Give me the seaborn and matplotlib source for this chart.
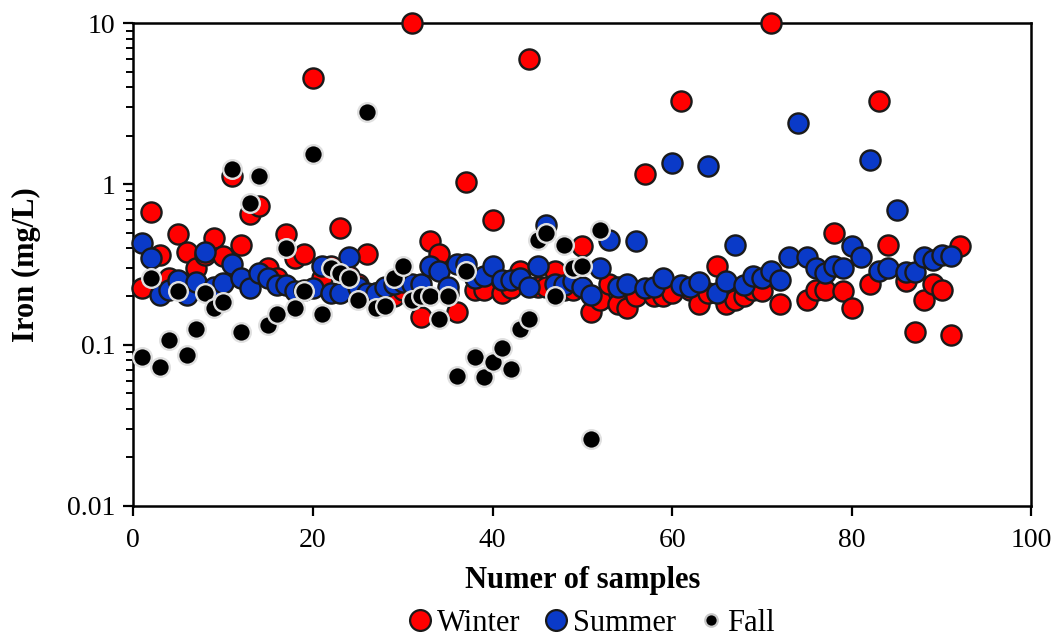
import numpy as np
import pandas as pd
import matplotlib
matplotlib.use("Agg")
import matplotlib.pyplot as plt
import seaborn as sns
from matplotlib.lines import Line2D
from matplotlib.ticker import FixedLocator, FixedFormatter, LogLocator, NullFormatter

nan = np.nan
winter = [0.225, 0.67, 0.36, 0.26, 0.49, 0.38, 0.30, 0.36, 0.46, 0.355,
          1.12, 0.42, 0.65, 0.73, 0.30, 0.26, 0.49, 0.345, 0.37, 4.6,
          0.26, 0.31, 0.53, 0.27, 0.24, 0.37, 0.21, 0.20, 0.20, 0.22,
          10.0, 0.15, 0.44, 0.37, 0.21, 0.16, 1.03, 0.22, 0.22, 0.60,
          0.21, 0.225, 0.29, 6.0, 0.23, 0.23, 0.29, 0.22, 0.22, 0.41,
          0.16, 0.19, 0.24, 0.18, 0.17, 0.20, 1.15, 0.20, 0.20, 0.21,
          3.3, 0.22, 0.18, 0.21, 0.31, 0.18, 0.19, 0.20, 0.22, 0.215,
          10.0, 0.18, nan, nan, 0.19, 0.22, 0.22, 0.50, 0.215, 0.17,
          nan, 0.24, 3.3, 0.42, nan, 0.25, 0.12, 0.19, 0.24, 0.22,
          0.115, 0.41]
summer = [0.43, 0.345, 0.204, 0.22, 0.255, 0.204, 0.245, 0.38, 0.23, 0.243,
          0.32, 0.26, 0.225, 0.28, 0.26, 0.235, 0.235, 0.215, 0.22, 0.225,
          0.31, 0.21, 0.21, 0.35, 0.23, 0.21, 0.21, 0.23, 0.24, 0.245,
          0.24, 0.24, 0.31, 0.29, 0.23, 0.32, 0.32, 0.26, 0.27, 0.31,
          0.255, 0.255, 0.26, 0.23, 0.31, 0.56, 0.24, 0.235, 0.25, 0.23,
          0.205, 0.30, 0.45, 0.23, 0.24, 0.44, 0.225, 0.23, 0.26, 1.35,
          0.235, 0.23, 0.245, 1.3, 0.21, 0.25, 0.42, 0.235, 0.27, 0.26,
          0.29, 0.255, 0.35, 2.4, 0.35, 0.30, 0.28, 0.31, 0.30, 0.41,
          0.35, 1.41, 0.29, 0.30, 0.69, 0.285, 0.285, 0.35, 0.335, 0.36,
          0.355]
fall = [0.084, 0.26, 0.073, 0.107, 0.215, 0.086, 0.125, 0.21, 0.17, 0.185,
        1.25, 0.12, 0.76, 1.12, 0.133, 0.155, 0.40, 0.17, 0.215, 1.54,
        0.155, 0.30, 0.28, 0.26, 0.19, 2.8, 0.17, 0.175, 0.26, 0.31,
        0.19, 0.20, 0.20, 0.145, 0.20, 0.064, 0.29, 0.084, 0.063, 0.078,
        0.096, 0.071, 0.125, 0.145, 0.45, 0.50, 0.20, 0.42, 0.30, 0.31,
        0.026, 0.52]

seasons = ["Winter", "Summer", "Fall"]
colors = {"Winter": "#ff0000", "Summer": "#0a3ac8", "Fall": "#000000"}
edges = {"Winter": "#1a1a1a", "Summer": "#1a1a1a", "Fall": "#e0e0e0"}
sizes = {"Winter": 210, "Summer": 210, "Fall": 180}
series = {"Winter": winter, "Summer": summer, "Fall": fall}

frames = []
for name in seasons:
    vals = series[name]
    frames.append(pd.DataFrame({"Sample": np.arange(1, len(vals) + 1),
                                "Iron": vals, "Season": name}))
df = pd.concat(frames, ignore_index=True).dropna()

sns.set_style("white")
plt.rcParams["font.family"] = ["Liberation Serif", "DejaVu Serif"]
plt.rcParams["text.color"] = "black"
plt.rcParams["axes.labelcolor"] = "black"
plt.rcParams["xtick.color"] = "black"
plt.rcParams["ytick.color"] = "black"

fig = plt.figure(figsize=(10.6, 6.42), dpi=100)
ax = fig.add_axes([0.1258, 0.2123, 0.8473, 0.7514])

for name in seasons:
    sub = df[df["Season"] == name]
    sns.scatterplot(data=sub, x="Sample", y="Iron", ax=ax, color=colors[name],
                    s=sizes[name], edgecolor=edges[name], linewidth=1.7,
                    legend=False, clip_on=False, zorder=3)

ax.set_yscale("log")
ax.set_ylim(0.01, 10)
ax.set_xlim(0, 100)
ax.set_xticks([0, 20, 40, 60, 80, 100])
ax.yaxis.set_major_locator(FixedLocator([0.01, 0.1, 1, 10]))
ax.yaxis.set_major_formatter(FixedFormatter(["0.01", "0.1", "1", "10"]))
ax.yaxis.set_minor_locator(LogLocator(base=10, subs=np.arange(2, 10), numticks=20))
ax.yaxis.set_minor_formatter(NullFormatter())

for sp in ax.spines.values():
    sp.set_visible(True)
    sp.set_color("black")
    sp.set_linewidth(1.8)

ax.tick_params(axis="both", which="major", direction="out", length=7, width=1.6,
               labelsize=20, colors="black", left=True, bottom=True)
ax.tick_params(axis="y", which="minor", direction="out", length=5, width=1.4, left=True)
ax.tick_params(axis="x", pad=9)
ax.tick_params(axis="y", pad=6)

ax.set_xlabel("Numer of samples", fontsize=22, fontweight="bold", color="black")
ax.set_ylabel("Iron (mg/L)", fontsize=22, fontweight="bold", color="black")
ax.xaxis.set_label_coords(0.5, -0.124)
ax.yaxis.set_label_coords(-0.103, 0.5)

handles = [Line2D([0], [0], marker="o", linestyle="none",
                  markersize=15 if n != "Fall" else 9,
                  markerfacecolor=colors[n],
                  markeredgecolor=edges[n] if n != "Fall" else "#c8c8c8",
                  markeredgewidth=1.6) for n in seasons]
leg = fig.legend(handles, seasons, loc="lower center", bbox_to_anchor=(0.556, -0.036), ncol=3,
                 frameon=False, fontsize=22, handletextpad=0.0, columnspacing=0.6,
                 handlelength=1.1)
for t in leg.get_texts():
    t.set_color("black")

fig.savefig("out.png", dpi=100, facecolor="white")
